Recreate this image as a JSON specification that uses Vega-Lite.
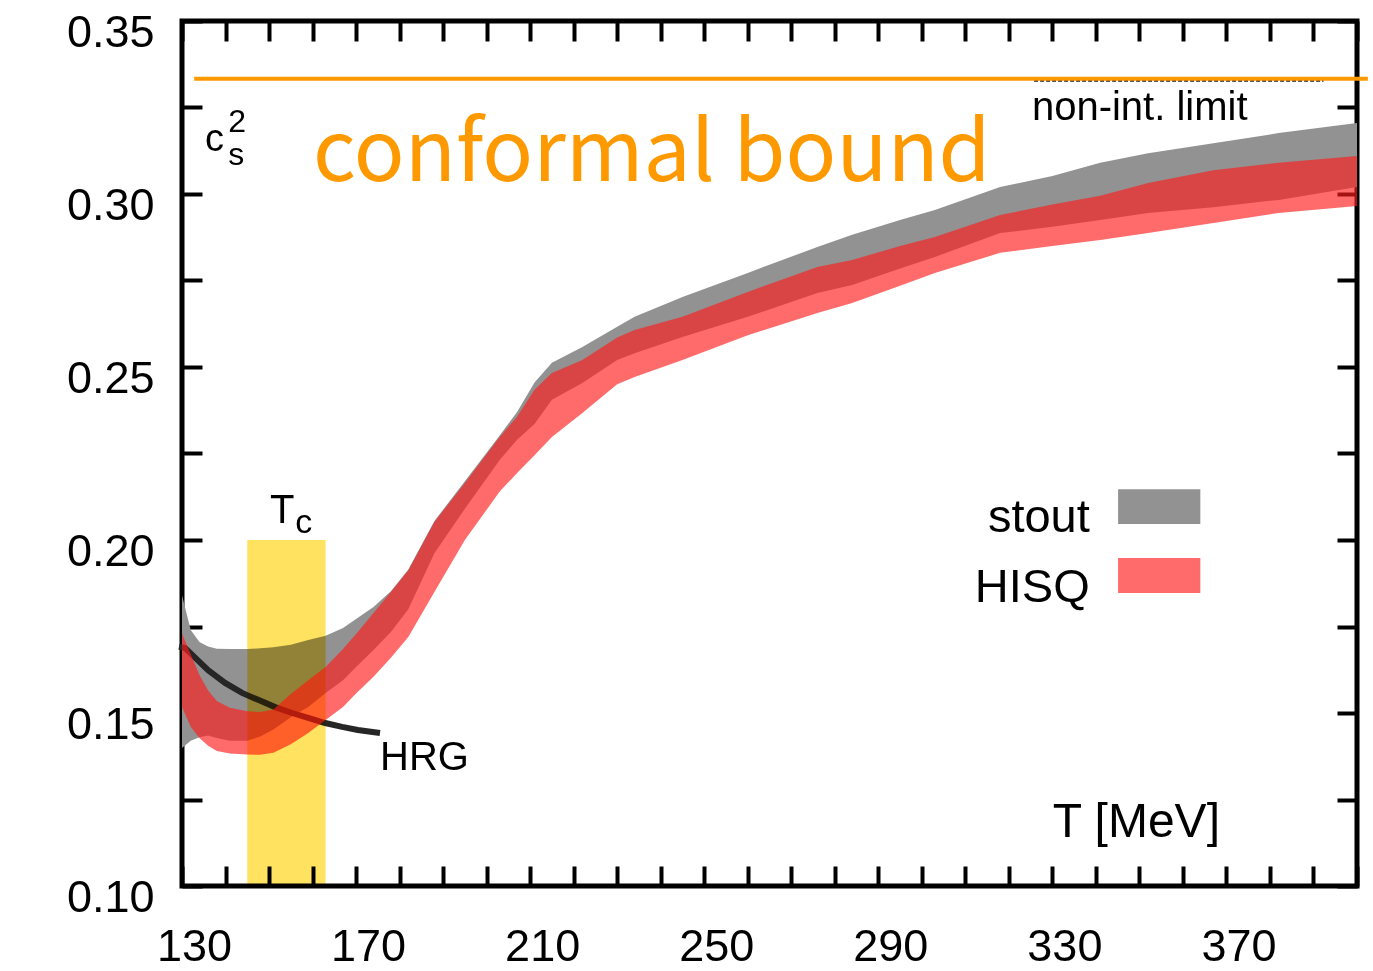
{
  "$schema": "https://vega.github.io/schema/vega-lite/v6.json",
  "autosize": {"type": "none"},
  "padding": {"left": 182, "top": 21, "right": 16, "bottom": 85},
  "width": 1175,
  "height": 865,
  "background": "white",
  "config": {
    "view": {"stroke": "black", "strokeWidth": 5},
    "font": "Liberation Sans",
    "text": {"font": "Liberation Sans", "color": "black"}
  },
  "datasets": {
    "bands": [
      {"T": 130, "stout_lo": 0.1399, "stout_hi": 0.1840, "hisq_lo": 0.1517, "hisq_hi": 0.1730},
      {"T": 132, "stout_lo": 0.1420, "stout_hi": 0.1740, "hisq_lo": 0.1460, "hisq_hi": 0.1670},
      {"T": 134, "stout_lo": 0.1430, "stout_hi": 0.1705, "hisq_lo": 0.1428, "hisq_hi": 0.1610},
      {"T": 136, "stout_lo": 0.1435, "stout_hi": 0.1692, "hisq_lo": 0.1405, "hisq_hi": 0.1565},
      {"T": 138, "stout_lo": 0.1428, "stout_hi": 0.1686, "hisq_lo": 0.1390, "hisq_hi": 0.1535},
      {"T": 141, "stout_lo": 0.1420, "stout_hi": 0.1685, "hisq_lo": 0.1383, "hisq_hi": 0.1515},
      {"T": 145, "stout_lo": 0.1420, "stout_hi": 0.1685, "hisq_lo": 0.1380, "hisq_hi": 0.1505},
      {"T": 148, "stout_lo": 0.1432, "stout_hi": 0.1687, "hisq_lo": 0.1379, "hisq_hi": 0.1503},
      {"T": 151, "stout_lo": 0.1452, "stout_hi": 0.1690, "hisq_lo": 0.1385, "hisq_hi": 0.1510},
      {"T": 155, "stout_lo": 0.1488, "stout_hi": 0.1697, "hisq_lo": 0.1410, "hisq_hi": 0.1555},
      {"T": 159, "stout_lo": 0.1517, "stout_hi": 0.1711, "hisq_lo": 0.1442, "hisq_hi": 0.1595},
      {"T": 163, "stout_lo": 0.1558, "stout_hi": 0.1723, "hisq_lo": 0.1480, "hisq_hi": 0.1633},
      {"T": 167, "stout_lo": 0.1595, "stout_hi": 0.1746, "hisq_lo": 0.1517, "hisq_hi": 0.1685},
      {"T": 170, "stout_lo": 0.1633, "stout_hi": 0.1772, "hisq_lo": 0.1556, "hisq_hi": 0.1728},
      {"T": 174, "stout_lo": 0.1682, "stout_hi": 0.1806, "hisq_lo": 0.1605, "hisq_hi": 0.1789},
      {"T": 178, "stout_lo": 0.1734, "stout_hi": 0.1852, "hisq_lo": 0.1660, "hisq_hi": 0.1850},
      {"T": 182, "stout_lo": 0.1800, "stout_hi": 0.1915, "hisq_lo": 0.1720, "hisq_hi": 0.1912},
      {"T": 188, "stout_lo": 0.1962, "stout_hi": 0.2055, "hisq_lo": 0.1850, "hisq_hi": 0.2052},
      {"T": 195, "stout_lo": 0.2090, "stout_hi": 0.2170, "hisq_lo": 0.2000, "hisq_hi": 0.2165},
      {"T": 203, "stout_lo": 0.2231, "stout_hi": 0.2302, "hisq_lo": 0.2140, "hisq_hi": 0.2298},
      {"T": 207, "stout_lo": 0.2290, "stout_hi": 0.2370, "hisq_lo": 0.2194, "hisq_hi": 0.2356},
      {"T": 211, "stout_lo": 0.2335, "stout_hi": 0.2455, "hisq_lo": 0.2245, "hisq_hi": 0.2434},
      {"T": 215, "stout_lo": 0.2405, "stout_hi": 0.2512, "hisq_lo": 0.2298, "hisq_hi": 0.2483},
      {"T": 222, "stout_lo": 0.2454, "stout_hi": 0.2558, "hisq_lo": 0.2367, "hisq_hi": 0.2520},
      {"T": 230, "stout_lo": 0.2520, "stout_hi": 0.2616, "hisq_lo": 0.2450, "hisq_hi": 0.2585},
      {"T": 234, "stout_lo": 0.2540, "stout_hi": 0.2645, "hisq_lo": 0.2471, "hisq_hi": 0.2607},
      {"T": 245, "stout_lo": 0.2587, "stout_hi": 0.2702, "hisq_lo": 0.2520, "hisq_hi": 0.2645},
      {"T": 260, "stout_lo": 0.2645, "stout_hi": 0.2772, "hisq_lo": 0.2592, "hisq_hi": 0.2717},
      {"T": 276, "stout_lo": 0.2714, "stout_hi": 0.2847, "hisq_lo": 0.2656, "hisq_hi": 0.2789},
      {"T": 284, "stout_lo": 0.2737, "stout_hi": 0.2882, "hisq_lo": 0.2685, "hisq_hi": 0.2809},
      {"T": 295, "stout_lo": 0.2785, "stout_hi": 0.2925, "hisq_lo": 0.2735, "hisq_hi": 0.2850},
      {"T": 303, "stout_lo": 0.2818, "stout_hi": 0.2954, "hisq_lo": 0.2772, "hisq_hi": 0.2876},
      {"T": 318, "stout_lo": 0.2887, "stout_hi": 0.3020, "hisq_lo": 0.2830, "hisq_hi": 0.2939},
      {"T": 330, "stout_lo": 0.2905, "stout_hi": 0.3052, "hisq_lo": 0.2850, "hisq_hi": 0.2970},
      {"T": 341, "stout_lo": 0.2925, "stout_hi": 0.3090, "hisq_lo": 0.2867, "hisq_hi": 0.2995},
      {"T": 352, "stout_lo": 0.2945, "stout_hi": 0.3118, "hisq_lo": 0.2887, "hisq_hi": 0.3032},
      {"T": 367, "stout_lo": 0.2962, "stout_hi": 0.3147, "hisq_lo": 0.2916, "hisq_hi": 0.3069},
      {"T": 382, "stout_lo": 0.2983, "stout_hi": 0.3176, "hisq_lo": 0.2945, "hisq_hi": 0.3090},
      {"T": 400, "stout_lo": 0.3020, "stout_hi": 0.3205, "hisq_lo": 0.2965, "hisq_hi": 0.3110}
    ],
    "hrg": [
      {"T": 129.3, "cs2": 0.1691},
      {"T": 130.7, "cs2": 0.1688},
      {"T": 136.0, "cs2": 0.1624},
      {"T": 139.9, "cs2": 0.1587},
      {"T": 143.8, "cs2": 0.1558},
      {"T": 147.5, "cs2": 0.1538},
      {"T": 151.4, "cs2": 0.1517},
      {"T": 155.3, "cs2": 0.1500},
      {"T": 159.0, "cs2": 0.1486},
      {"T": 162.9, "cs2": 0.1471},
      {"T": 166.8, "cs2": 0.1460},
      {"T": 170.4, "cs2": 0.1451},
      {"T": 175.5, "cs2": 0.1442}
    ]
  },
  "layer": [
    {
      "data": {"name": "bands"},
      "mark": {"type": "area", "color": "#929292", "clip": true},
      "encoding": {
        "x": {
          "field": "T", "type": "quantitative",
          "scale": {"domain": [130, 400], "nice": false, "zero": false},
          "axis": {
            "orient": "bottom", "title": null, "domain": false, "grid": false,
            "values": [130, 140, 150, 160, 170, 180, 190, 200, 210, 220, 230, 240, 250, 260, 270, 280, 290, 300, 310, 320, 330, 340, 350, 360, 370, 380, 390, 400],
            "labelExpr": "datum.value % 40 == 10 ? format(datum.value, 'd') : ''",
            "tickSize": -20, "tickWidth": 4, "tickColor": "black",
            "labelFont": "Liberation Sans", "labelFontSize": 45, "labelColor": "black",
            "labelPadding": 58, "labelOffset": 12, "labelFlush": false, "labelOverlap": false
          }
        },
        "y": {
          "field": "stout_lo", "type": "quantitative",
          "scale": {"domain": [0.1, 0.35], "nice": false, "zero": false},
          "axis": {
            "orient": "left", "title": null, "domain": false, "grid": false,
            "values": [0.1, 0.125, 0.15, 0.175, 0.2, 0.225, 0.25, 0.275, 0.3, 0.325, 0.35],
            "labelExpr": "abs(datum.value * 20 - round(datum.value * 20)) < 0.001 ? format(datum.value, '.2f') : ''",
            "tickSize": -20, "tickWidth": 4, "tickColor": "black",
            "labelFont": "Liberation Sans", "labelFontSize": 45, "labelColor": "black",
            "labelPadding": 48, "labelOffset": 11, "labelFlush": false, "labelOverlap": false
          }
        },
        "y2": {"field": "stout_hi"}
      }
    },
    {
      "data": {"name": "hrg"},
      "mark": {"type": "line", "color": "#262626", "strokeWidth": 6, "clip": false},
      "encoding": {
        "x": {"field": "T", "type": "quantitative", "axis": null},
        "y": {"field": "cs2", "type": "quantitative", "axis": null}
      }
    },
    {
      "data": {"name": "bands"},
      "mark": {"type": "area", "color": "#ff1c1c", "opacity": 0.65, "clip": true},
      "encoding": {
        "x": {
          "field": "T", "type": "quantitative",
          "axis": {
            "orient": "top", "title": null, "domain": false, "grid": false, "labels": false,
            "values": [130, 140, 150, 160, 170, 180, 190, 200, 210, 220, 230, 240, 250, 260, 270, 280, 290, 300, 310, 320, 330, 340, 350, 360, 370, 380, 390, 400],
            "tickSize": -20, "tickWidth": 4, "tickColor": "black"
          }
        },
        "y": {
          "field": "hisq_lo", "type": "quantitative",
          "axis": {
            "orient": "right", "title": null, "domain": false, "grid": false, "labels": false,
            "values": [0.1, 0.125, 0.15, 0.175, 0.2, 0.225, 0.25, 0.275, 0.3, 0.325, 0.35],
            "tickSize": -20, "tickWidth": 4, "tickColor": "black"
          }
        },
        "y2": {"field": "hisq_hi"}
      }
    },
    {
      "data": {"values": [{"Tc_lo": 145, "Tc_hi": 163, "lo": 0.1, "hi": 0.2}]},
      "mark": {"type": "rect", "color": "#ffe360", "blend": "multiply"},
      "encoding": {
        "x": {"field": "Tc_lo", "type": "quantitative", "axis": null},
        "x2": {"field": "Tc_hi"},
        "y": {"field": "lo", "type": "quantitative", "axis": null},
        "y2": {"field": "hi"}
      }
    },
    {
      "data": {"values": [{"T0": 325.8, "T1": 392.3, "v": 0.3327}]},
      "mark": {"type": "rule", "color": "#222222", "strokeWidth": 2, "strokeDash": [4, 2]},
      "encoding": {
        "x": {"field": "T0", "type": "quantitative", "axis": null},
        "x2": {"field": "T1"},
        "y": {"field": "v", "type": "quantitative", "axis": null}
      }
    },
    {
      "data": {"values": [{"T0": 132.8, "T1": 402.5, "v": 0.33333}]},
      "mark": {"type": "rule", "color": "#ff9900", "strokeWidth": 4, "clip": false},
      "encoding": {
        "x": {"field": "T0", "type": "quantitative", "axis": null},
        "x2": {"field": "T1"},
        "y": {"field": "v", "type": "quantitative", "axis": null}
      }
    },
    {
      "data": {"values": [
        {"series": "stout", "T0": 345.1, "T1": 364.0, "lo": 0.2046, "hi": 0.2147}
      ]},
      "mark": {"type": "rect", "color": "#929292"},
      "encoding": {
        "x": {"field": "T0", "type": "quantitative", "axis": null},
        "x2": {"field": "T1"},
        "y": {"field": "lo", "type": "quantitative", "axis": null},
        "y2": {"field": "hi"}
      }
    },
    {
      "data": {"values": [
        {"series": "HISQ", "T0": 345.1, "T1": 364.0, "lo": 0.1847, "hi": 0.1948}
      ]},
      "mark": {"type": "rect", "color": "#ff1c1c", "opacity": 0.65},
      "encoding": {
        "x": {"field": "T0", "type": "quantitative", "axis": null},
        "x2": {"field": "T1"},
        "y": {"field": "lo", "type": "quantitative", "axis": null},
        "y2": {"field": "hi"}
      }
    },
    {
      "data": {"values": [
        {"label": "stout", "T": 338.6, "v": 0.2023},
        {"label": "HISQ", "T": 338.6, "v": 0.1821}
      ]},
      "mark": {"type": "text", "align": "right", "baseline": "alphabetic", "fontSize": 47, "font": "Liberation Sans"},
      "encoding": {
        "x": {"field": "T", "type": "quantitative", "axis": null},
        "y": {"field": "v", "type": "quantitative", "axis": null},
        "text": {"field": "label"}
      }
    },
    {
      "data": {"values": [{"label": "T [MeV]", "T": 330.1, "v": 0.1143}]},
      "mark": {"type": "text", "align": "left", "baseline": "alphabetic", "fontSize": 48, "font": "Liberation Sans"},
      "encoding": {
        "x": {"field": "T", "type": "quantitative", "axis": null},
        "y": {"field": "v", "type": "quantitative", "axis": null},
        "text": {"field": "label"}
      }
    },
    {
      "data": {"values": [
        {"label": "HRG", "T": 175.5, "v": 0.1335},
        {"label": "T", "T": 150.2, "v": 0.2049}
      ]},
      "mark": {"type": "text", "align": "left", "baseline": "alphabetic", "fontSize": 40, "font": "Liberation Sans"},
      "encoding": {
        "x": {"field": "T", "type": "quantitative", "axis": null},
        "y": {"field": "v", "type": "quantitative", "axis": null},
        "text": {"field": "label"}
      }
    },
    {
      "data": {"values": [
        {"label": "c", "T": 156.0, "v": 0.2020}
      ]},
      "mark": {"type": "text", "align": "left", "baseline": "alphabetic", "fontSize": 34, "font": "Liberation Sans"},
      "encoding": {
        "x": {"field": "T", "type": "quantitative", "axis": null},
        "y": {"field": "v", "type": "quantitative", "axis": null},
        "text": {"field": "label"}
      }
    },
    {
      "data": {"values": [{"label": "non-int. limit", "T": 325.3, "v": 0.3214}]},
      "mark": {"type": "text", "align": "left", "baseline": "alphabetic", "fontSize": 40, "font": "Liberation Sans"},
      "encoding": {
        "x": {"field": "T", "type": "quantitative", "axis": null},
        "y": {"field": "v", "type": "quantitative", "axis": null},
        "text": {"field": "label"}
      }
    },
    {
      "data": {"values": [{"label": "c", "T": 135.3, "v": 0.3124}]},
      "mark": {"type": "text", "align": "left", "baseline": "alphabetic", "fontSize": 38, "font": "Liberation Sans"},
      "encoding": {
        "x": {"field": "T", "type": "quantitative", "axis": null},
        "y": {"field": "v", "type": "quantitative", "axis": null},
        "text": {"field": "label"}
      }
    },
    {
      "data": {"values": [
        {"label": "s", "T": 140.6, "v": 0.3084},
        {"label": "2", "T": 140.6, "v": 0.3178}
      ]},
      "mark": {"type": "text", "align": "left", "baseline": "alphabetic", "fontSize": 32, "font": "Liberation Sans"},
      "encoding": {
        "x": {"field": "T", "type": "quantitative", "axis": null},
        "y": {"field": "v", "type": "quantitative", "axis": null},
        "text": {"field": "label"}
      }
    },
    {
      "data": {"values": [{"label": "conformal bound", "T": 160.1, "v": 0.3038}]},
      "mark": {"type": "text", "align": "left", "baseline": "alphabetic", "fontSize": 84, "font": "Noto Sans CJK JP", "color": "#ff9900"},
      "encoding": {
        "x": {"field": "T", "type": "quantitative", "axis": null},
        "y": {"field": "v", "type": "quantitative", "axis": null},
        "text": {"field": "label"}
      }
    }
  ],
  "resolve": {"axis": {"x": "independent", "y": "independent"}}
}
